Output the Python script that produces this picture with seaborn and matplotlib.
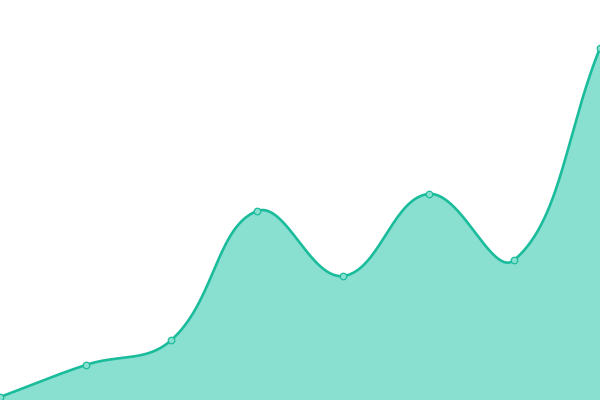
import numpy as np
import pandas as pd
import seaborn as sns
import matplotlib

matplotlib.use("Agg")
import matplotlib.pyplot as plt

# Values (y axis hidden, 0-400 scale)
labels = ["p1", "p2", "p3", "p4", "p5", "p6", "p7", "p8"]
values = [3, 35, 60, 189, 124, 206, 140, 352]

LINE_COLOR = "#1abc9c"
FILL_COLOR = "#8ae0d0"
WIDTH_PX, HEIGHT_PX = 600, 400
TENSION = 0.4


def spline_path(xs, ys, tension=TENSION, n=60):
    """Smooth path through the points, control points built like a cardinal spline
    (distances computed in pixel space so the shape matches the canvas)."""
    sx = WIDTH_PX / (len(xs) - 1)
    px = np.asarray(xs, float) * sx
    py = np.asarray(ys, float)
    pts = np.column_stack([px, py])
    k = len(pts)
    c_prev = pts.copy()
    c_next = pts.copy()
    for i in range(k):
        prev = pts[max(i - 1, 0)]
        cur = pts[i]
        nxt = pts[min(i + 1, k - 1)]
        d01 = np.hypot(*(cur - prev))
        d12 = np.hypot(*(nxt - cur))
        tot = d01 + d12
        s01 = d01 / tot if tot else 0
        s12 = d12 / tot if tot else 0
        c_prev[i] = cur - tension * s01 * (nxt - prev)
        c_next[i] = cur + tension * s12 * (nxt - prev)
    out = []
    t = np.linspace(0, 1, n)[:, None]
    for i in range(k - 1):
        p0, p1, p2, p3 = pts[i], c_next[i], c_prev[i + 1], pts[i + 1]
        seg = ((1 - t) ** 3) * p0 + 3 * ((1 - t) ** 2) * t * p1 \
            + 3 * (1 - t) * t ** 2 * p2 + t ** 3 * p3
        out.append(seg if i == 0 else seg[1:])
    out = np.vstack(out)
    return out[:, 0] / sx, out[:, 1]


df = pd.DataFrame({"idx": np.arange(len(values)), "label": labels, "value": values})
cx, cy = spline_path(df["idx"], df["value"])
curve = pd.DataFrame({"x": cx, "y": cy})

sns.set_style("white")
fig = plt.figure(figsize=(6, 4), dpi=100)
ax = fig.add_axes([0, 0, 1, 1])

ax.fill_between(curve["x"], curve["y"], 0, color=FILL_COLOR, linewidth=0, zorder=1)
sns.lineplot(data=curve, x="x", y="y", ax=ax, color=LINE_COLOR, linewidth=1.9,
             sort=False, estimator=None, zorder=2)
sns.scatterplot(data=df, x="idx", y="value", ax=ax, s=22, color=FILL_COLOR,
                edgecolor=LINE_COLOR, linewidth=0.9, zorder=3)

ax.set_xlim(0, len(values) - 1)
ax.set_ylim(0, 400)
ax.axis("off")

fig.savefig("out.png", dpi=100)
